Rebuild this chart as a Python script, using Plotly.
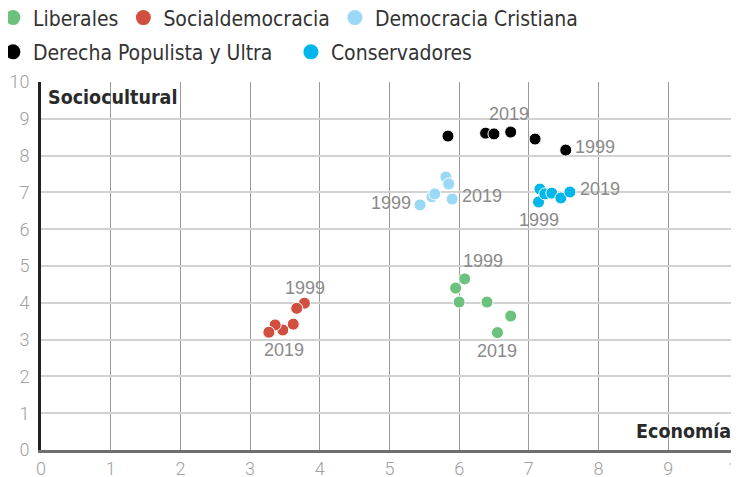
import plotly.graph_objects as go

# ---- data ----
series_names = ["Liberales", "Socialdemocracia", "Democracia Cristiana",
                "Derecha Populista y Ultra", "Conservadores"]
series_colors = ["#6cc17d", "#d14f3f", "#9ad9f6", "#000000", "#00b6ea"]
legend_row = ["legend", "legend", "legend", "legend2", "legend2"]

lib_x = [6.08, 5.95, 6.00, 6.40, 6.74, 6.55]
lib_y = [4.65, 4.40, 4.02, 4.02, 3.64, 3.19]
soc_x = [3.78, 3.67, 3.62, 3.47, 3.36, 3.27]
soc_y = [3.99, 3.85, 3.42, 3.26, 3.40, 3.20]
dc_x = [5.44, 5.61, 5.65, 5.81, 5.85, 5.90]
dc_y = [6.66, 6.88, 6.96, 7.42, 7.23, 6.82]
der_x = [7.53, 7.09, 5.84, 6.38, 6.50, 6.74]
der_y = [8.15, 8.45, 8.53, 8.61, 8.59, 8.64]
con_x = [7.14, 7.16, 7.23, 7.33, 7.46, 7.59]
con_y = [6.74, 7.09, 6.96, 6.98, 6.85, 7.01]

series_x = [lib_x, soc_x, dc_x, der_x, con_x]
series_y = [lib_y, soc_y, dc_y, der_y, con_y]

year_first = "1999"
year_last = "2019"

x_ticks = [0, 1, 2, 3, 4, 5, 6, 7, 8, 9, 10]
y_ticks = [0, 1, 2, 3, 4, 5, 6, 7, 8, 9, 10]
x_title = "Economía"
y_title = "Sociocultural"

# label placement styles per series: (first label, last label)
# each: (xanchor, yanchor, xshift, yshift)
label_styles = [
    (("center", "bottom", 18, 6), ("center", "top", 0, -6)),
    (("center", "bottom", 1, 3), ("center", "top", 15, -6)),
    (("right", "middle", -7, 2), ("left", "middle", 8, 3)),
    (("left", "middle", 7, 3), ("center", "bottom", -2, 6)),
    (("center", "top", 0, -6), ("left", "middle", 8, 3)),
]

LEG_FONT = "DejaVu Sans Condensed, Roboto, sans-serif"
TICK_FONT = "Roboto, DejaVu Sans, sans-serif"

fig = go.Figure()
for name, color, xs, ys in zip(series_names, series_colors, series_x, series_y):
    fig.add_trace(go.Scatter(
        x=xs, y=ys, mode="markers", name=name, showlegend=False,
        marker=dict(color=color, size=12, line=dict(color="white", width=1)),
        hoverinfo="skip",
    ))
# legend entries (legend swatches only)
for name, color, leg in zip(series_names, series_colors, legend_row):
    fig.add_trace(go.Scatter(
        x=[None], y=[None], mode="markers", name=name, legend=leg,
        marker=dict(color=color, size=15), hoverinfo="skip",
    ))

annotations = []
for xs, ys, styles in zip(series_x, series_y, label_styles):
    for idx, txt, st in ((0, year_first, styles[0]), (-1, year_last, styles[1])):
        xa, ya, xsh, ysh = st
        annotations.append(dict(
            x=xs[idx], y=ys[idx], xref="x", yref="y", text=txt, showarrow=False,
            xanchor=xa, yanchor=ya, xshift=xsh, yshift=ysh,
            font=dict(family="Liberation Sans, Arial", size=18, color="#8a8a8a"),
        ))

annotations.append(dict(
    x=0, y=1, xref="paper", yref="paper", text=y_title, showarrow=False,
    xanchor="left", yanchor="top", xshift=5, yshift=-2,
    font=dict(family=LEG_FONT, size=19.5, color="#2a2a2a", weight="bold"),
))
annotations.append(dict(
    x=1, y=0, xref="paper", yref="paper", text=x_title, showarrow=False,
    xanchor="right", yanchor="bottom", xshift=-5, yshift=5,
    font=dict(family=LEG_FONT, size=19.5, color="#2a2a2a", weight="bold"),
))

leg_common = dict(
    orientation="h", xanchor="left", yanchor="middle",
    font=dict(family=LEG_FONT, size=21, color="#333333"),
    itemsizing="trace", itemwidth=30, bgcolor="rgba(0,0,0,0)",
)

# page body has an 8px default margin: compensate so the plot area sits at
# left 41, top 82, right 738, bottom 450 in the window
fig.update_layout(
    width=739, height=477,
    margin=dict(l=33, r=9, t=74, b=35, autoexpand=False),
    paper_bgcolor="white", plot_bgcolor="white",
    showlegend=True,
    legend=dict(x=-0.069, y=1.174, **leg_common),
    legend2=dict(x=-0.069, y=1.081, entrywidth=253, **leg_common),
    annotations=annotations,
    xaxis=dict(
        range=[0, 10.002], tickvals=x_ticks, ticktext=[str(v) for v in x_ticks],
        showgrid=True, gridcolor="#9a9a9a", gridwidth=1,
        zeroline=False, showline=True, linecolor="#6f6f6f", linewidth=3,
        ticks="", ticklabelstandoff=0, automargin=False, ticklabeloverflow="allow",
        tickfont=dict(family=TICK_FONT, size=18, color="#a0a0a0", weight=300),
        fixedrange=True,
    ),
    yaxis=dict(
        range=[0, 10], tickvals=y_ticks, ticktext=[str(v) for v in y_ticks],
        showgrid=True, gridcolor="#d2d2d2", gridwidth=2,
        zeroline=False, showline=True, linecolor="#222222", linewidth=3,
        ticks="", ticklabelstandoff=5, automargin=False, ticklabeloverflow="allow",
        tickfont=dict(family=TICK_FONT, size=18, color="#a0a0a0", weight=300),
        fixedrange=True,
    ),
)

fig.write_html("out.html")
